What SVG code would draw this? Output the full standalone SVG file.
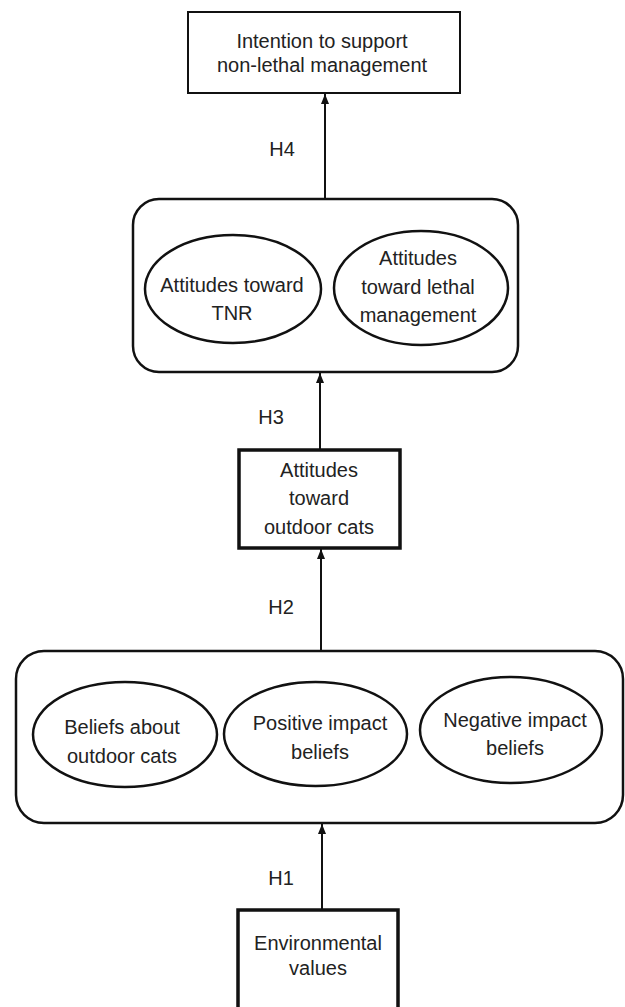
<svg xmlns="http://www.w3.org/2000/svg" width="625" height="1007" viewBox="0 0 625 1007">
<defs>
<style>
.box{fill:#fff;stroke:#111;stroke-width:2}
.thick{fill:#fff;stroke:#111;stroke-width:3.5}
.grp{fill:#fff;stroke:#111;stroke-width:2.5}
.ell{fill:#fff;stroke:#111;stroke-width:2.5}
.t{font-family:"Liberation Sans",Arial,sans-serif;font-size:20px;fill:#222;text-anchor:middle}
.edge{stroke:#111;stroke-width:2;fill:none;marker-end:url(#ah)}
</style>
<marker id="ah" markerUnits="userSpaceOnUse" markerWidth="10" markerHeight="10" viewBox="0 0 10 10" refX="10" refY="5" orient="auto">
<path d="M0,1 L10,5 L0,9 Z" fill="#111"/>
</marker>
</defs>
<rect width="625" height="1007" fill="#fff"/>
<g id="connectors">
<line class="edge" x1="325" y1="199" x2="325" y2="94"/>
<line class="edge" x1="320" y1="450" x2="320" y2="373"/>
<line class="edge" x1="321" y1="651" x2="321" y2="549"/>
<line class="edge" x1="322" y1="910" x2="322" y2="824"/>
<text class="t" x="282" y="156">H4</text>
<text class="t" x="271" y="424">H3</text>
<text class="t" x="281" y="614">H2</text>
<text class="t" x="281" y="885">H1</text>
</g>
<g id="intention">
<rect class="box" x="188" y="12" width="272" height="81"/>
<text class="t" x="322" y="48">Intention to support</text>
<text class="t" x="322" y="72">non-lethal management</text>
</g>
<g id="attitudes-mgmt">
<rect class="grp" x="133" y="199" width="385" height="173" rx="26" ry="26"/>
</g>
<g id="att-tnr">
<ellipse class="ell" cx="233" cy="289" rx="88" ry="54"/>
<text class="t" x="232" y="292">Attitudes toward</text>
<text class="t" x="232" y="320">TNR</text>
</g>
<g id="att-lethal">
<ellipse class="ell" cx="421" cy="288" rx="87" ry="57"/>
<text class="t" x="418" y="265">Attitudes</text>
<text class="t" x="418" y="294">toward lethal</text>
<text class="t" x="418" y="322">management</text>
</g>
<g id="att-cats">
<rect class="thick" x="239" y="450" width="161" height="98"/>
<text class="t" x="319" y="477">Attitudes</text>
<text class="t" x="319" y="505">toward</text>
<text class="t" x="319" y="534">outdoor cats</text>
</g>
<g id="beliefs">
<rect class="grp" x="16" y="651" width="607" height="172" rx="28" ry="28"/>
</g>
<g id="beliefs-cats">
<ellipse class="ell" cx="125" cy="734.5" rx="92" ry="52.5"/>
<text class="t" x="122" y="734">Beliefs about</text>
<text class="t" x="122" y="763">outdoor cats</text>
</g>
<g id="positive">
<ellipse class="ell" cx="315.5" cy="734" rx="91.5" ry="52"/>
<text class="t" x="320" y="730">Positive impact</text>
<text class="t" x="320" y="759">beliefs</text>
</g>
<g id="negative">
<ellipse class="ell" cx="511" cy="730" rx="91" ry="53"/>
<text class="t" x="515" y="727">Negative impact</text>
<text class="t" x="515" y="755">beliefs</text>
</g>
<g id="env">
<rect class="thick" x="238" y="910" width="160" height="100"/>
<text class="t" x="318" y="950">Environmental</text>
<text class="t" x="318" y="975">values</text>
</g>
</svg>
